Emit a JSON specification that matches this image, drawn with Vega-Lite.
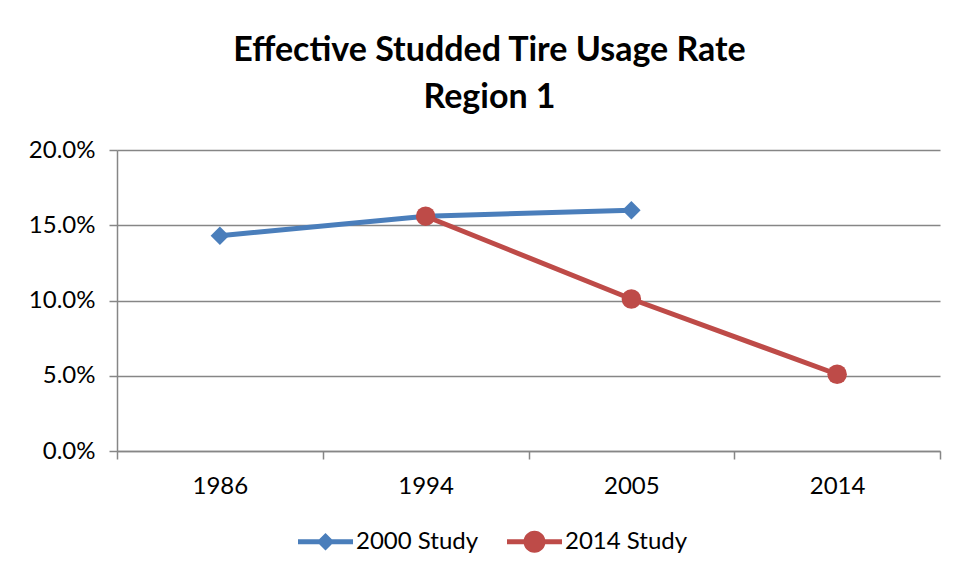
{
  "$schema": "https://vega.github.io/schema/vega-lite/v6.json",
  "autosize": "none",
  "width": 823,
  "height": 301,
  "padding": {"left": 117, "top": 150, "right": 16, "bottom": 127},
  "background": "white",
  "config": {
    "font": "Lato",
    "view": {"stroke": null},
    "axis": {"labelFont": "Lato", "labelColor": "#000000"}
  },
  "title": {
    "text": ["Effective Studded Tire Usage Rate", "Region 1"],
    "font": "Lato",
    "fontSize": 34,
    "fontWeight": "bold",
    "color": "#000000",
    "anchor": "middle",
    "frame": "group",
    "dx": -39,
    "lineHeight": 47,
    "offset": 23
  },
  "data": {
    "values": [
      {"study": "2000 Study", "year": "1986", "rate": 0.143},
      {"study": "2000 Study", "year": "1994", "rate": 0.156},
      {"study": "2000 Study", "year": "2005", "rate": 0.160},
      {"study": "2014 Study", "year": "1994", "rate": 0.156},
      {"study": "2014 Study", "year": "2005", "rate": 0.101},
      {"study": "2014 Study", "year": "2014", "rate": 0.051}
    ]
  },
  "encoding": {
    "x": {
      "field": "year",
      "type": "ordinal",
      "scale": {"domain": ["1986", "1994", "2005", "2014"], "paddingInner": 0, "paddingOuter": 0},
      "axis": {
        "title": null,
        "labelAngle": 0,
        "labelFontSize": 24,
        "labelPadding": 15,
        "tickBand": "extent",
        "tickSize": 8,
        "tickColor": "#868686",
        "tickWidth": 1.5,
        "domainColor": "#868686",
        "domainWidth": 1.5,
        "grid": false
      }
    },
    "y": {
      "field": "rate",
      "type": "quantitative",
      "scale": {"domain": [0, 0.2], "nice": false},
      "axis": {
        "title": null,
        "values": [0, 0.05, 0.1, 0.15, 0.2],
        "format": ".1%",
        "labelFontSize": 24,
        "labelPadding": 14,
        "tickSize": 8,
        "tickColor": "#868686",
        "tickWidth": 1.5,
        "domainColor": "#868686",
        "domainWidth": 1.5,
        "grid": true,
        "gridColor": "#868686",
        "gridWidth": 1.5
      }
    },
    "color": {
      "field": "study",
      "type": "nominal",
      "scale": {"domain": ["2000 Study", "2014 Study"], "range": ["#4A7EBB", "#BE4B48"]},
      "legend": {
        "title": null,
        "orient": "none",
        "direction": "horizontal",
        "legendX": 181,
        "legendY": 364,
        "symbolSize": 3025,
        "labelFontSize": 24,
        "labelFont": "Lato",
        "labelColor": "#000000",
        "labelOffset": 3,
        "columnPadding": 28,
        "symbolStrokeWidth": 0,
        "encode": {
          "symbols": {
            "update": {
              "shape": {"signal": "datum.value == '2000 Study' ? 'M-1,-0.09H1V0.09H-1Z M-0.32,0L0,-0.32L0.32,0L0,0.32Z' : 'M-1,-0.09H1V0.09H-1Z M-0.4,0A0.4,0.4 0 1,1 0.4,0A0.4,0.4 0 1,1 -0.4,0Z'"},
              "size": {"value": 3025},
              "fill": {"scale": "color", "field": "value"},
              "strokeWidth": {"value": 0},
              "opacity": {"value": 1}
            }
          }
        }
      }
    }
  },
  "layer": [
    {
      "mark": {"type": "line", "strokeWidth": 5},
      "encoding": {"detail": {"field": "study"}}
    },
    {
      "transform": [{"filter": "datum.study == '2000 Study'"}],
      "mark": {"type": "point", "filled": true, "opacity": 1, "shape": "diamond", "size": 340}
    },
    {
      "transform": [{"filter": "datum.study == '2014 Study'"}],
      "mark": {"type": "point", "filled": true, "opacity": 1, "shape": "circle", "size": 380}
    }
  ]
}
